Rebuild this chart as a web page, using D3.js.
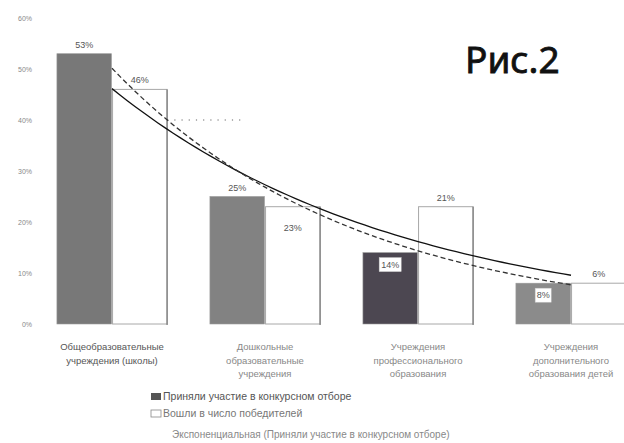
<!DOCTYPE html>
<html><head><meta charset="utf-8">
<script src="https://cdn.jsdelivr.net/npm/d3@7"></script>
<style>body{margin:0;background:#fff}svg{display:block}</style>
</head><body>
<svg id="c" width="624" height="443"></svg>
<script>
const categories = [
  ["Общеобразовательные","учреждения (школы)"],
  ["Дошкольные","образовательные","учреждения"],
  ["Учреждения","профессионального","образования"],
  ["Учреждения","дополнительного","образования детей"]
];
const participated = [53, 25, 14, 8];
const winners = [46, 23, 23, 8];
const participatedLabels = ["53%","25%","14%","8%"];
const winnersLabels = ["46%","23%","21%","6%"];
const yTicks = [0,10,20,30,40,50,60];
const seriesNames = ["Приняли участие в конкурсном отборе","Вошли в число победителей","Экспоненциальная (Приняли участие в конкурсном отборе)"];

const svg = d3.select("#c");
const font = "'Liberation Sans', Arial, sans-serif";
const y = d3.scaleLinear().domain([0,60]).range([324,18]);
const idx = d3.range(categories.length);
const x0 = d3.scaleBand().domain(idx).range([35.5,647.5]).paddingInner(0.28).paddingOuter(0.14);
const x1 = d3.scaleBand().domain(["p","w"]).range([0,x0.bandwidth()]).paddingInner(0.02);
const partColors = ["#787878","#828282","#4c4751","#8b8b8b"];

svg.append("g").selectAll("text").data(yTicks).join("text")
  .attr("x",32).attr("y",d=>y(d)+3).attr("text-anchor","end")
  .attr("font-family",font).attr("font-size",7).attr("fill","#888")
  .text(d=>d+"%");

svg.append("line").attr("x1",x0(0)+x0.bandwidth()).attr("x2",245)
  .attr("y1",y(40)).attr("y2",y(40))
  .attr("stroke","#666").attr("stroke-dasharray","1.2,6").attr("stroke-width",1.2);

const g = svg.append("g");
g.selectAll("rect.p").data(participated).join("rect")
  .attr("x",(d,i)=>x0(i)+x1("p")).attr("width",x1.bandwidth())
  .attr("y",d=>y(d)).attr("height",d=>y(0)-y(d))
  .attr("fill",(d,i)=>partColors[i]).attr("stroke","#9a9a9a").attr("stroke-width",0.6);
g.selectAll("rect.w").data(winners).join("rect")
  .attr("x",(d,i)=>x0(i)+x1("w")).attr("width",x1.bandwidth())
  .attr("y",d=>y(d)).attr("height",d=>y(0)-y(d))
  .attr("fill","#fff").attr("stroke","#a8a8a8").attr("stroke-width",1);
g.selectAll("line.we").data(winners).join("line")
  .attr("x1",(d,i)=>x0(i)+x1("w")+x1.bandwidth()).attr("x2",(d,i)=>x0(i)+x1("w")+x1.bandwidth())
  .attr("y1",d=>y(d)).attr("y2",y(0)+1)
  .attr("stroke","#777").attr("stroke-width",1.2);

function expFit(vals){
  const xs = vals.map((v,i)=>i+1), ls = vals.map(v=>Math.log(v));
  const mx = d3.mean(xs), ml = d3.mean(ls);
  const b = d3.sum(xs.map((xv,i)=>(xv-mx)*(ls[i]-ml)))/d3.sum(xs.map(xv=>(xv-mx)**2));
  const a = ml - b*mx;
  return t=>Math.exp(a+b*t);
}
const cx = i=>x0(i)+x0.bandwidth()/2;
const xt = d3.scaleLinear().domain([1,categories.length]).range([cx(0),cx(categories.length-1)]);
const ts = d3.range(1,categories.length+0.001,0.05);
const line = f=>d3.line().x(t=>xt(t)).y(t=>y(f(t)))(ts);
svg.append("path").attr("d",line(expFit(winners))).attr("fill","none").attr("stroke","#111").attr("stroke-width",1.3);
svg.append("path").attr("d",line(expFit(participated))).attr("fill","none").attr("stroke","#333").attr("stroke-width",1.3).attr("stroke-dasharray","5,3");

const pPos = ["above","above","box","box"];
const wPos = ["above","inside","above","above"];
function label(vals,labels,key,pos){
  vals.forEach((v,i)=>{
    const cxb = x0(i)+x1(key)+x1.bandwidth()/2;
    let ty;
    if(pos[i]==="above") ty = y(v)-6;
    else if(pos[i]==="inside") ty = y(v)+24;
    else ty = y(v)+15;
    if(pos[i]==="box"){
      const w = labels[i].length*6+4;
      svg.append("rect").attr("x",cxb-w/2).attr("y",ty-10).attr("width",w).attr("height",14).attr("fill","#fff").attr("stroke","#ccc").attr("stroke-width",0.5);
    }
    svg.append("text").attr("x",cxb).attr("y",ty).attr("text-anchor","middle")
      .attr("font-family",font).attr("font-size",9).attr("fill","#555").text(labels[i]);
  });
}
label(participated,participatedLabels,"p",pPos);
label(winners,winnersLabels,"w",wPos);

categories.forEach((lines,i)=>{
  const t = svg.append("text").attr("text-anchor","middle").attr("font-family",font)
    .attr("font-size",9.5).attr("fill",i===0?"#555":"#888");
  lines.forEach((s,j)=>t.append("tspan").attr("x",cx(i)).attr("y",350+j*13.5).text(s));
});

svg.append("rect").attr("x",151).attr("y",393).attr("width",10).attr("height",7).attr("fill","#555");
svg.append("rect").attr("x",151).attr("y",410).attr("width",10).attr("height",7).attr("fill","#fff").attr("stroke","#888").attr("stroke-width",0.8);
[[400,seriesNames[0],163,"#555",10.5],[417,seriesNames[1],163,"#777",10.5],[438,seriesNames[2],172,"#888",10]].forEach(([ly,s,lx,c,fs])=>{
  svg.append("text").attr("x",lx).attr("y",ly).attr("font-family",font).attr("font-size",fs).attr("fill",c).text(s);
});

svg.append("text").attr("x",465).attr("y",73).attr("font-family","'Noto Sans', sans-serif")
  .attr("font-size",37).attr("fill","#111").attr("stroke","#111").attr("stroke-width",0.8).text("Рис.2");
</script>
</body></html>
